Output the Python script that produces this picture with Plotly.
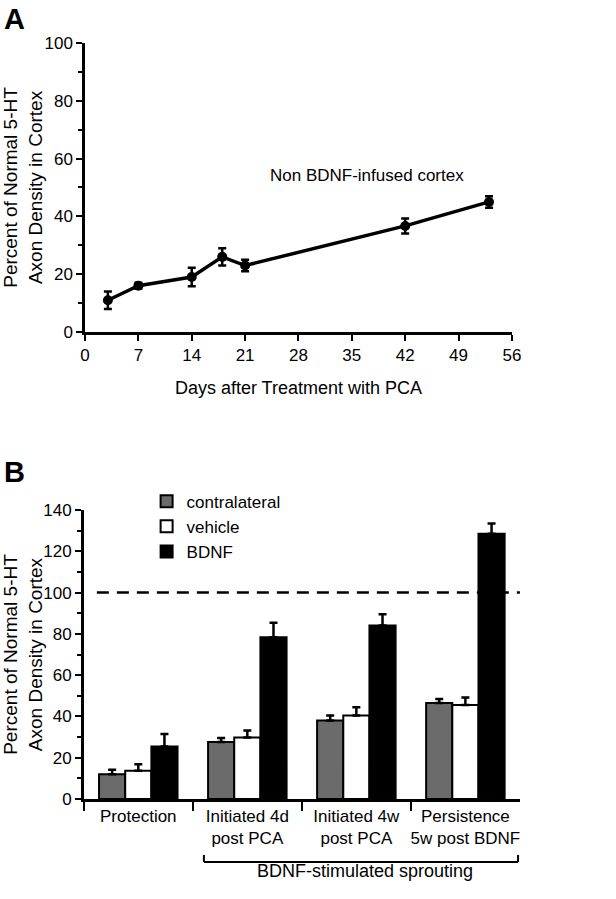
import plotly.graph_objects as go

# ---- Panel A data ----
days = [3, 7, 14, 18, 21, 42, 53]
density = [11, 16, 19, 26, 23, 36.7, 45]
density_err = [3, 1, 3.2, 3, 2, 2.6, 2]
x_ticks_a = [0, 7, 14, 21, 28, 35, 42, 49, 56]

# ---- Panel B data ----
groups = ["Protection", "Initiated 4d<br>post PCA", "Initiated 4w<br>post PCA", "Persistence<br>5w post BDNF"]
contralateral = [12, 27.6, 38, 46.5]
contralateral_err = [2.2, 2, 2.5, 2]
vehicle = [13.7, 29.8, 40.5, 45.6]
vehicle_err = [3.2, 3.4, 4, 3.6]
bdnf = [25.5, 78.4, 84, 128.5]
bdnf_err = [6, 7, 5.5, 5]

FONT = "Liberation Sans, Arial, Helvetica, sans-serif"
AX_LW = 2.5

fig = go.Figure()

fig.add_trace(go.Scatter(
    x=days, y=density, mode="lines+markers", showlegend=False,
    line=dict(color="black", width=3.5),
    marker=dict(color="black", size=10, symbol="circle"),
    error_y=dict(type="data", array=density_err, color="black", thickness=2.5, width=4),
    xaxis="x", yaxis="y",
))

def bar(name, vals, errs, fill):
    return go.Bar(
        name=name, x=groups, y=vals, xaxis="x2", yaxis="y2",
        marker=dict(color=fill, line=dict(color="black", width=2)),
        error_y=dict(type="data", array=errs, arrayminus=[0] * len(errs), symmetric=False,
                     color="black", thickness=2.5, width=4),
    )

fig.add_trace(bar("contralateral", contralateral, contralateral_err, "#6b6b6b"))
fig.add_trace(bar("vehicle", vehicle, vehicle_err, "white"))
fig.add_trace(bar("BDNF", bdnf, bdnf_err, "black"))

axis_common = dict(showline=True, linecolor="black", linewidth=AX_LW, ticks="outside",
                   tickcolor="black", tickwidth=2, ticklen=6, showgrid=False, zeroline=False,
                   automargin=False, tickangle=0,
                   tickfont=dict(family=FONT, size=17, color="black"))

ytitle = "Percent of Normal 5-HT<br>Axon Density in Cortex"

fig.update_layout(
    width=616, height=899,
    margin=dict(l=0, r=0, t=0, b=0, autoexpand=False),
    paper_bgcolor="white", plot_bgcolor="white",
    font=dict(family=FONT, color="black"),
    barmode="group", bargap=0.28, bargroupgap=0,
    xaxis=dict(domain=[0.138, 0.831], anchor="y", range=[0, 56], tickvals=x_ticks_a,
               title=dict(text="Days after Treatment with PCA", font=dict(size=18), standoff=18),
               **axis_common),
    yaxis=dict(domain=[0.6307, 0.9522], anchor="x", range=[0, 100], dtick=20,
               minor=dict(dtick=10, ticks="outside", ticklen=4, tickwidth=2, tickcolor="black"),
               title=dict(text=ytitle, font=dict(size=19), standoff=1),
               **axis_common),
    xaxis2=dict(domain=[0.136, 0.844], anchor="y2", range=[-0.5, 3.5], type="category",
                tickson="boundaries", **{**axis_common, "ticklen": 9}),
    yaxis2=dict(domain=[0.1112, 0.4327], anchor="x2", range=[0, 140], dtick=20,
                minor=dict(dtick=10, ticks="outside", ticklen=4, tickwidth=2, tickcolor="black"),
                title=dict(text=ytitle, font=dict(size=19), standoff=1),
                **axis_common),
    legend=dict(x=0.238, y=0.462, xanchor="left", yanchor="top", bgcolor="rgba(0,0,0,0)",
                font=dict(size=17, family=FONT), traceorder="normal", tracegroupgap=0,
                itemsizing="constant"),
)

fig.add_annotation(x=37, y=54, xref="x", yref="y", text="Non BDNF-infused cortex",
                   showarrow=False, font=dict(size=17))
fig.add_annotation(x=0.003, y=0.999, xref="paper", yref="paper", xanchor="left", yanchor="top",
                   text="<b>A</b>", showarrow=False, font=dict(size=29))
fig.add_annotation(x=0.003, y=0.4955, xref="paper", yref="paper", xanchor="left", yanchor="top",
                   text="<b>B</b>", showarrow=False, font=dict(size=29))

# dashed normal (100%) reference line
fig.add_shape(type="line", xref="x2 domain", yref="y2", x0=0.03, x1=1.0, y0=100, y1=100,
              line=dict(color="black", width=2.5, dash="12px,8px"))

# bracket for BDNF-stimulated sprouting
yb, yt = 0.0412, 0.049
xl, xr = 0.331, 0.841
for x0, y0, x1, y1 in [(xl, yb, xr, yb), (xl, yb, xl, yt), (xr, yb, xr, yt)]:
    fig.add_shape(type="line", xref="paper", yref="paper", x0=x0, y0=y0, x1=x1, y1=y1,
                  line=dict(color="black", width=2))
fig.add_annotation(x=0.593, y=0.0178, xref="paper", yref="paper", text="BDNF-stimulated sprouting",
                   showarrow=False, font=dict(size=18))

fig.write_html("out.html", config={"displayModeBar": False},
               post_script="document.body.style.margin='0';")
